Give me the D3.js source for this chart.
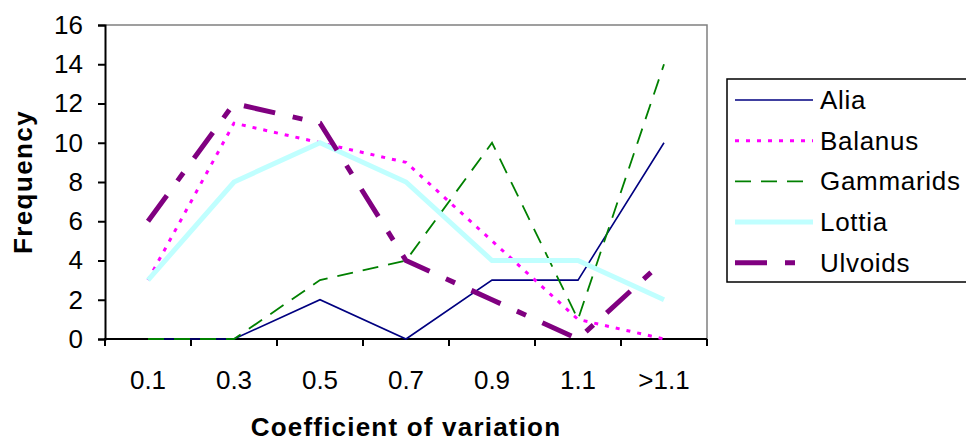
<!DOCTYPE html>
<html><head><meta charset="utf-8">
<script src="https://cdn.jsdelivr.net/npm/d3@7"></script>
<style>body{margin:0;background:#fff}svg{display:block;font-family:Arial,"Liberation Sans",sans-serif}</style>
</head><body><svg id="c" width="966" height="441"></svg>
<script>
const categories = ["0.1","0.3","0.5","0.7","0.9","1.1",">1.1"];
const alia = [0,0,2,0,3,3,10];
const balanus = [3,11,10,9,5,1,0];
const gammarids = [0,0,3,4,10,1,14];
const lottia = [3,8,10,8,4,4,2];
const ulvoids = [6,12,11,4,2,0,4];
const yTicks = [0,2,4,6,8,10,12,14,16];

const series = [
  {name:"Alia", values:alia, color:"#000080", width:1.6, dash:null},
  {name:"Balanus", values:balanus, color:"#FF00FF", width:3, dash:"4,7"},
  {name:"Gammarids", values:gammarids, color:"#008000", width:1.8, dash:"16,10"},
  {name:"Lottia", values:lottia, color:"#C0FFFF", width:5, dash:null},
  {name:"Ulvoids", values:ulvoids, color:"#800080", width:5, dash:"32,18,10,18"}
];
const FS = 26;
const svg = d3.select("#c");
const L=105, R=707, T=25, B=339;
const x = d3.scaleBand().domain(categories).range([L,R]);
const y = d3.scaleLinear().domain([0,16]).range([B,T]);

// plot border (top/right gray)
svg.append("path").attr("d",`M${L},${T}H${R}V${B}`).attr("fill","none").attr("stroke","#808080").attr("stroke-width",1.5);

// axes
const yAxis = d3.axisLeft(y).tickValues(yTicks).tickSize(7).tickPadding(15);
const gy = svg.append("g").attr("transform",`translate(${L},0)`).call(yAxis);
gy.attr("font-size",FS).attr("font-family",null);
gy.select(".domain").attr("stroke","#000").attr("stroke-width",2);
gy.selectAll(".tick line").attr("stroke","#000").attr("stroke-width",2);
gy.selectAll("text").attr("font-size",FS).attr("fill","#000");

const gx = svg.append("g").attr("transform",`translate(0,${B})`);
gx.append("line").attr("x1",L-1).attr("x2",R).attr("stroke","#000").attr("stroke-width",2);
const bounds = categories.map(c=>x(c)).concat([R]);
gx.selectAll("line.t").data(bounds).join("line").attr("class","t")
  .attr("x1",d=>d).attr("x2",d=>d).attr("y1",0).attr("y2",7).attr("stroke","#000").attr("stroke-width",2);
gx.selectAll("text").data(categories).join("text")
  .attr("x",d=>x(d)+x.bandwidth()/2).attr("y",50).attr("text-anchor","middle")
  .attr("font-size",FS).attr("fill","#000").text(d=>d);

// lines (drawn over axes)
const line = d3.line().x((d,i)=>x(categories[i])+x.bandwidth()/2).y(d=>y(d));
series.forEach(s=>{
  svg.append("path").datum(s.values).attr("d",line).attr("fill","none")
    .attr("stroke",s.color).attr("stroke-width",s.width)
    .attr("stroke-dasharray",s.dash).attr("stroke-linejoin","miter");
});

// axis titles
svg.append("text").attr("x",(L+R)/2).attr("y",436).attr("text-anchor","middle")
  .attr("font-size",26).attr("font-weight","bold").attr("letter-spacing",1.2).text("Coefficient of variation");
svg.append("text").attr("transform",`translate(32,${(T+B)/2}) rotate(-90)`).attr("text-anchor","middle")
  .attr("font-size",26).attr("font-weight","bold").attr("letter-spacing",1.4).text("Frequency");

// legend
const lg = svg.append("g");
lg.append("rect").attr("x",727).attr("y",79).attr("width",245).attr("height",203)
  .attr("fill","#fff").attr("stroke","#000").attr("stroke-width",1.5);
series.forEach((s,i)=>{
  const yy = 100 + i*40.7;
  lg.append("line").attr("x1",735).attr("x2",813).attr("y1",yy).attr("y2",yy)
    .attr("stroke",s.color).attr("stroke-width",s.width).attr("stroke-dasharray",s.dash);
  lg.append("text").attr("x",820).attr("y",yy+9).attr("font-size",FS).attr("letter-spacing",0.7)
    .attr("fill","#000").text(s.name);
});
</script></body></html>
